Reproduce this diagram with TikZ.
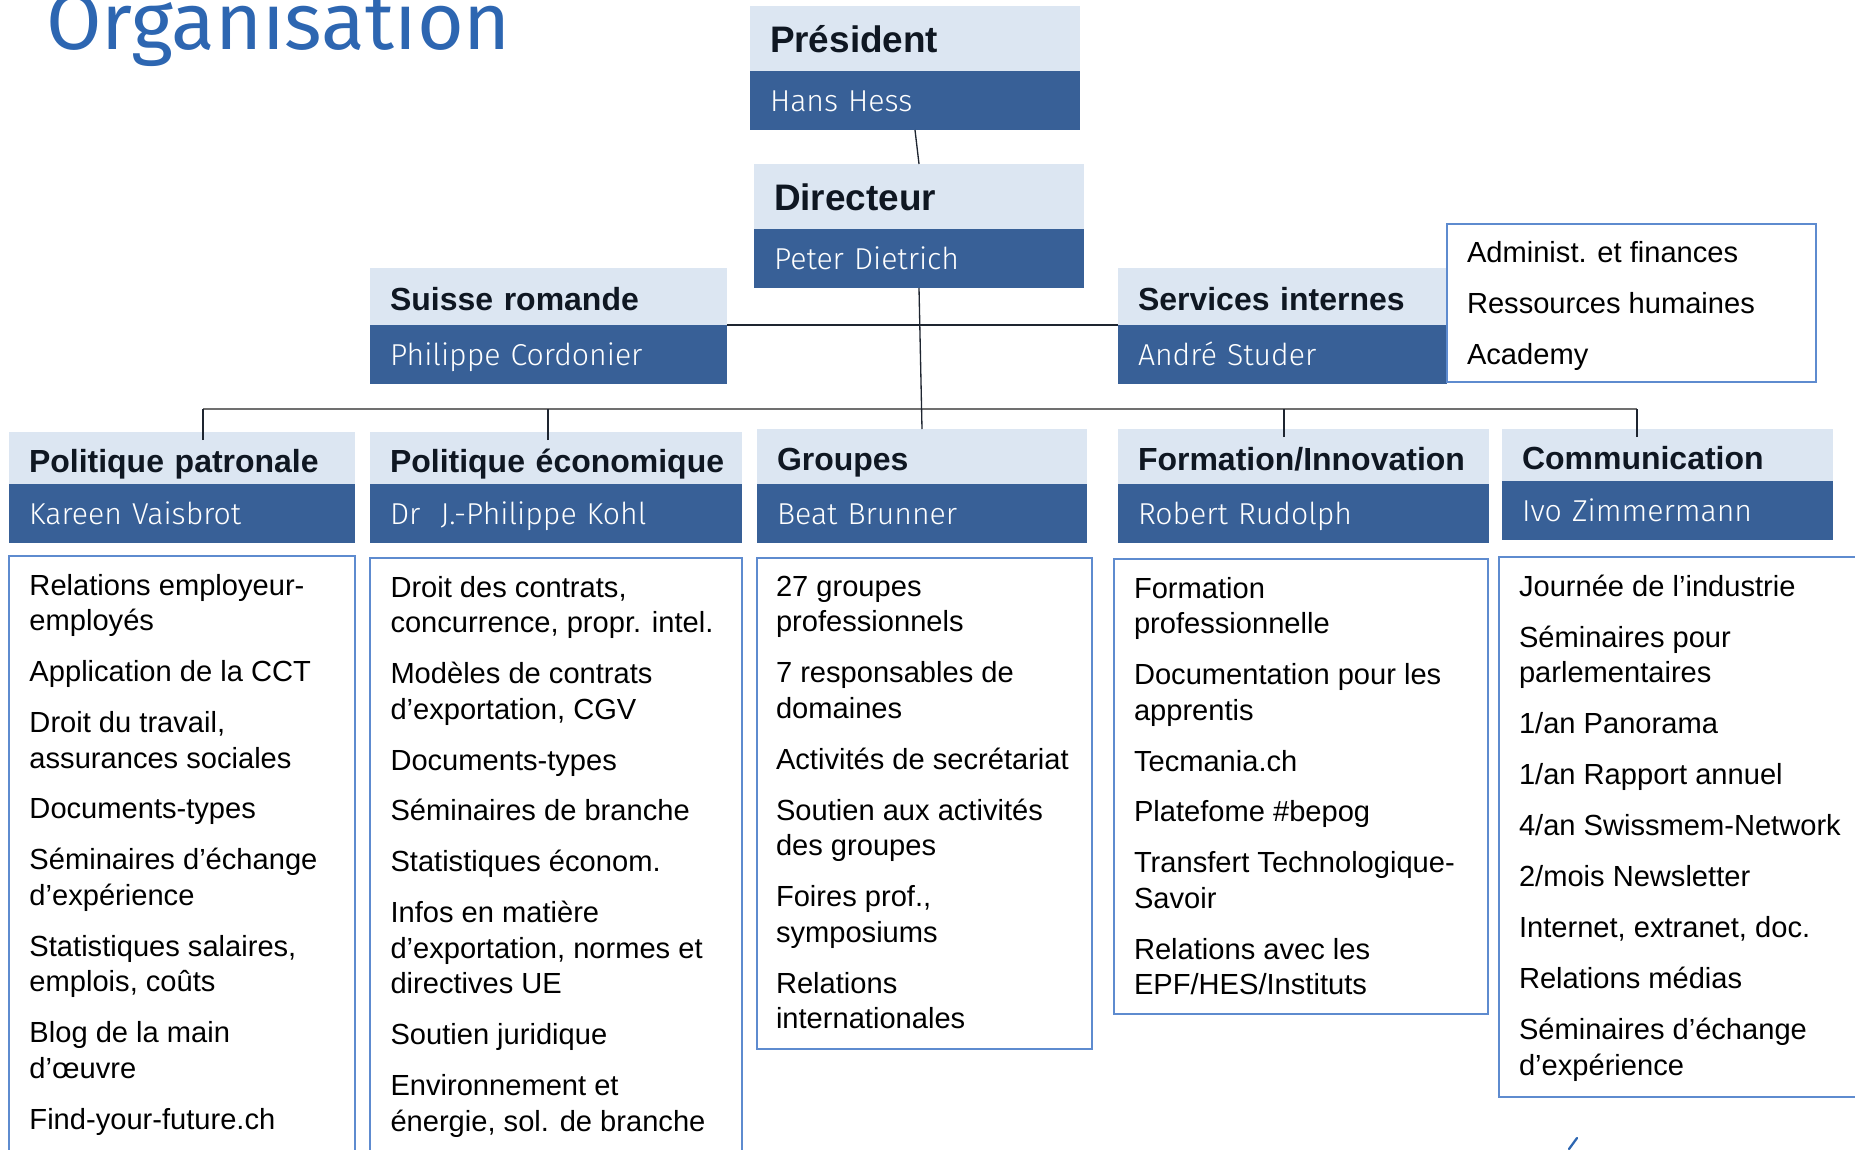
\documentclass[tikz,border=0pt]{standalone}
\usepackage{fontspec}
\setmainfont{Liberation Sans}
\newfontfamily\firafont{Fira Sans}
\newfontfamily\firalight{Fira Sans Light}
\usetikzlibrary{positioning}

\definecolor{lightblue}{HTML}{DCE6F2}
\definecolor{darkblue}{HTML}{386097}
\definecolor{titletext}{HTML}{0F1722}
\definecolor{framecol}{HTML}{5E8BCF}
\definecolor{heading}{HTML}{2D66B1}
\definecolor{linedark}{HTML}{1E2530}
\definecolor{linegray}{HTML}{707070}

\begin{document}
\begin{tikzpicture}[
  every node/.style={outer sep=0pt},
  titlebox/.style={fill=lightblue, text=titletext, anchor=north west, inner xsep=0.4cm, inner ysep=0pt, align=left,
    font=\bfseries\fontsize{18.2pt}{21pt}\selectfont, text height=16pt, text depth=0pt},
  bigtitle/.style={titlebox, font=\bfseries\fontsize{21pt}{24pt}\selectfont, text height=16.5pt},
  namebox/.style={fill=darkblue, text=white, inner xsep=0.4cm, inner ysep=0pt, align=left,
    font=\firalight\fontsize{17.2pt}{21pt}\selectfont, text height=12pt, text depth=0pt},
  listbox/.style={draw=framecol, line width=1pt, inner sep=0pt, anchor=north west},
  listtext/.style={inner sep=0pt, align=left, font=\fontsize{16.56pt}{20.2pt}\selectfont},
  link/.style={draw=linedark, line width=0.75pt},
  bus/.style={draw=linegray, line width=0.9pt}
]
\useasboundingbox (0,0) rectangle (37.1,-22.98);

% heading
\node[font=\firafont\fontsize{45.7pt}{48pt}\selectfont, text=heading, anchor=base west, inner sep=0pt] (title) at (0.92,-1.0) {Organisation};

% direction
\node[bigtitle, text width=5.8cm, minimum height=1.3cm] (president) at (15.0,-0.12) {Président};
\node[namebox, text width=5.8cm, minimum height=1.18cm, below=0pt of president] (hess) {Hans Hess};
\node[bigtitle, text width=5.8cm, minimum height=1.3cm] (directeur) at (15.08,-3.28) {Directeur};
\node[namebox, text width=5.8cm, minimum height=1.18cm, below=0pt of directeur] (dietrich) {Peter Dietrich};

\node[titlebox, text width=6.34cm, minimum height=1.14cm] (romande) at (7.4,-5.36) {Suisse romande};
\node[namebox, text width=6.34cm, minimum height=1.18cm, below=0pt of romande] (cordonier) {Philippe Cordonier};
\node[titlebox, text width=5.78cm, minimum height=1.14cm] (services) at (22.36,-5.36) {Services internes};
\node[namebox, text width=5.78cm, minimum height=1.18cm, below=0pt of services] (studer) {André Studer};
\node[listbox, minimum width=7.38cm, minimum height=3.16cm] (lstser) at (28.94,-4.48) {};
\node[listtext, below right=0.34cm and 0.4cm of lstser.north west] (txtser)
  {Administ. et finances\\[8.8pt] Ressources humaines\\[8.8pt] Academy};

% divisions
\node[titlebox, text width=6.12cm, minimum height=1.04cm] (patronale) at (0.18,-8.64) {Politique patronale};
\node[namebox, text width=6.12cm, minimum height=1.18cm, below=0pt of patronale] (vaisbrot) {Kareen Vaisbrot};
\node[titlebox, text width=6.64cm, minimum height=1.04cm] (economique) at (7.4,-8.64) {\mbox{Politique économique}};
\node[namebox, text width=6.64cm, minimum height=1.18cm, below=0pt of economique] (kohl) {Dr\ \ J.-Philippe Kohl};
\node[titlebox, text width=5.8cm, minimum height=1.1cm] (groupes) at (15.14,-8.58) {Groupes};
\node[namebox, text width=5.8cm, minimum height=1.18cm, below=0pt of groupes] (brunner) {Beat Brunner};
\node[titlebox, text width=6.62cm, minimum height=1.1cm] (formation) at (22.36,-8.58) {Formation/Innovation};
\node[namebox, text width=6.62cm, minimum height=1.18cm, below=0pt of formation] (rudolph) {Robert Rudolph};
\node[titlebox, text width=5.82cm, minimum height=1.04cm] (communication) at (30.04,-8.58) {Communication};
\node[namebox, text width=5.82cm, minimum height=1.18cm, below=0pt of communication] (zimmermann) {Ivo Zimmermann};

% task lists
\node[listbox, minimum width=6.92cm, minimum height=12cm, below right=0.26cm and 0cm of vaisbrot.south west] (lstpat) {};
\node[listtext, below right=0.36cm and 0.41cm of lstpat.north west] (txtpat)
  {Relations employeur-\\ employés\\[8.8pt]
   Application de la CCT\\[8.8pt]
   Droit du travail,\\ assurances sociales\\[8.8pt]
   Documents-types\\[8.8pt]
   Séminaires d’échange\\ d’expérience\\[8.8pt]
   Statistiques salaires,\\ emplois, coûts\\[8.8pt]
   Blog de la main\\ d’œuvre\\[8.8pt]
   Find-your-future.ch};

\node[listbox, minimum width=7.44cm, minimum height=12cm, below right=0.3cm and 0cm of kohl.south west] (lsteco) {};
\node[listtext, below right=0.36cm and 0.41cm of lsteco.north west] (txteco)
  {Droit des contrats,\\ concurrence, propr. intel.\\[8.8pt]
   Modèles de contrats\\ d’exportation, CGV\\[8.8pt]
   Documents-types\\[8.8pt]
   Séminaires de branche\\[8.8pt]
   Statistiques économ.\\[8.8pt]
   Infos en matière\\ d’exportation, normes et\\ directives UE\\[8.8pt]
   Soutien juridique\\[8.8pt]
   Environnement et\\ énergie, sol. de branche};

\node[listbox, minimum width=6.7cm, minimum height=9.82cm, below right=0.3cm and 0cm of brunner.south west] (lstgrp) {};
\node[listtext, below right=0.36cm and 0.38cm of lstgrp.north west] (txtgrp)
  {27 groupes\\ professionnels\\[8.8pt]
   7 responsables de\\ domaines\\[8.8pt]
   Activités de secrétariat\\[8.8pt]
   Soutien aux activités\\ des groupes\\[8.8pt]
   Foires prof.,\\ symposiums\\[8.8pt]
   Relations\\ internationales};

\node[listbox, minimum width=7.48cm, minimum height=9.1cm, below right=0.32cm and -0.08cm of rudolph.south west] (lstfor) {};
\node[listtext, below right=0.36cm and 0.4cm of lstfor.north west] (txtfor)
  {Formation\\ professionnelle\\[8.8pt]
   Documentation pour les\\ apprentis\\[8.8pt]
   Tecmania.ch\\[8.8pt]
   Platefome \#bepog\\[8.8pt]
   Transfert Technologique-\\ Savoir\\[8.8pt]
   Relations avec les\\ EPF/HES/Instituts};

\node[listbox, minimum width=8cm, minimum height=10.8cm, below right=0.34cm and -0.06cm of zimmermann.south west] (lstcom) {};
\node[listtext, below right=0.36cm and 0.4cm of lstcom.north west] (txtcom)
  {Journée de l’industrie\\[8.8pt]
   Séminaires pour\\ parlementaires\\[8.8pt]
   1/an Panorama\\[8.8pt]
   1/an Rapport annuel\\[8.8pt]
   4/an Swissmem-Network\\[8.8pt]
   2/mois Newsletter\\[8.8pt]
   Internet, extranet, doc.\\[8.8pt]
   Relations médias\\[8.8pt]
   Séminaires d’échange\\ d’expérience};

% connectors
\draw[link] (hess.south) -- (directeur.north);
\draw[link, line width=1.1pt] (romande.south east) -- (services.south west);
\coordinate (bus) at (0,-8.18);
\coordinate (tpat) at ([xshift=0.42cm,yshift=-0.16cm]patronale.north);
\coordinate (teco) at ([xshift=-0.16cm,yshift=-0.16cm]economique.north);
\coordinate (tfor) at ([xshift=-0.39cm,yshift=-0.16cm]formation.north);
\coordinate (tcom) at ([xshift=-0.61cm,yshift=-0.16cm]communication.north);
\draw[bus] (tpat |- bus) -- (tcom |- bus);
\foreach \t in {tpat,teco,tfor,tcom}
  \draw[link] (\t) -- (\t |- bus);
\draw[link] (dietrich.south) -- (groupes.north);

% logo fragment
\draw[heading, line width=1.3pt, line cap=round] (31.38,-22.98) -- (31.54,-22.76);
\end{tikzpicture}
\end{document}
